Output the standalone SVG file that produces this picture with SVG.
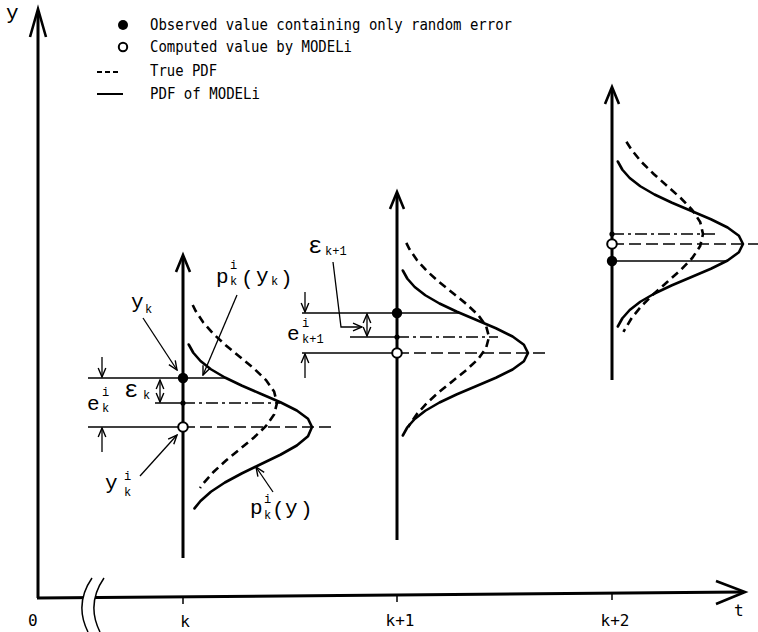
<svg xmlns="http://www.w3.org/2000/svg" width="758" height="632" viewBox="0 0 758 632">
<defs>
<marker id="ah" viewBox="-10 -5 11 10" refX="0" refY="0" markerWidth="11" markerHeight="10" markerUnits="userSpaceOnUse" orient="auto-start-reverse">
<path d="M-9,-3.8 L0,0 L-9,3.8" fill="none" stroke="#000" stroke-width="1.4"/>
</marker>
<style>
.ax{stroke:#000;stroke-width:3;fill:none}
.head{stroke:#000;stroke-width:2.6;fill:none;stroke-linejoin:miter}
.model{stroke:#000;stroke-width:2.6;fill:none;stroke-linejoin:round;stroke-linecap:round}
.true{stroke:#000;stroke-width:2.6;fill:none;stroke-dasharray:8 5}
.hl{stroke:#000;stroke-width:1.5;fill:none}
.hd{stroke:#000;stroke-width:1.5;fill:none;stroke-dasharray:12 5}
.hdd{stroke:#000;stroke-width:1.5;fill:none;stroke-dasharray:12 4 3 4}
.ld{stroke:#000;stroke-width:1.3;fill:none}
.leg{font-family:"DejaVu Sans Mono","Liberation Mono",monospace;font-size:16px;fill:#000}
.tk{font-family:"DejaVu Sans Mono","Liberation Mono",monospace;font-size:16px;fill:#000}
.m{font-family:"Liberation Mono","DejaVu Sans Mono",monospace;font-size:21px;fill:#000}
.s{font-family:"Liberation Mono","DejaVu Sans Mono",monospace;font-size:12px;fill:#000}
.eps{font-family:"Liberation Mono","DejaVu Sans Mono",monospace;font-size:24px;fill:#000}
</style>
</defs>
<rect width="758" height="632" fill="#fff"/>

<g id="axes">
<line class="ax" x1="38" y1="598" x2="38" y2="11"/>
<path class="head" d="M30,37 L38,9 L46,37"/>
<line class="ax" x1="37" y1="598" x2="743" y2="592"/>
<path class="head" d="M716,581 L745,592 L716,604"/>
<path d="M92,578 Q74,604 88,632 L100,632 Q86,604 104,578 Z" fill="#fff"/>
<path d="M92,578 Q74,604 88,632" class="hl" stroke-width="2"/>
<path d="M104,578 Q86,604 100,632" class="hl" stroke-width="2"/>
<line class="hl" stroke-width="2" x1="183" y1="596" x2="183" y2="604"/>
<line class="hl" stroke-width="2" x1="397" y1="595" x2="397" y2="602"/>
<line class="hl" stroke-width="2" x1="612" y1="593" x2="612" y2="600"/>
<text class="m" x="6" y="19" font-size="20">y</text>
<text class="tk" x="734" y="616">t</text>
<text class="tk" x="28" y="626">0</text>
<text class="tk" x="185" y="627" text-anchor="middle">k</text>
<text class="tk" x="400" y="626" text-anchor="middle">k+1</text>
<text class="tk" x="615" y="626" text-anchor="middle">k+2</text>
</g>

<g id="legend">
<circle cx="123" cy="25" r="5" fill="#000"/>
<text class="leg" x="150" y="30" textLength="362" lengthAdjust="spacingAndGlyphs">Observed value containing only random error</text>
<circle cx="123" cy="47" r="4.2" fill="#fff" stroke="#000" stroke-width="2"/>
<text class="leg" x="150" y="52" textLength="202" lengthAdjust="spacingAndGlyphs">Computed value by MODELi</text>
<line x1="97" y1="72" x2="121" y2="72" stroke="#000" stroke-width="2" stroke-dasharray="5 3"/>
<text class="leg" x="150" y="76" textLength="67" lengthAdjust="spacingAndGlyphs">True PDF</text>
<line x1="97" y1="94" x2="123" y2="94" stroke="#000" stroke-width="2"/>
<text class="leg" x="150" y="99" textLength="110" lengthAdjust="spacingAndGlyphs">PDF of MODELi</text>
</g>

<g id="dist-k">
<line class="hl" x1="88" y1="378" x2="225" y2="378"/>
<line class="hl" x1="155" y1="403" x2="183" y2="403"/>
<line class="hdd" x1="183" y1="403" x2="280" y2="403"/>
<line class="hl" x1="88" y1="427" x2="183" y2="427"/>
<line class="hd" x1="183" y1="427" x2="333" y2="427"/>
<polyline class="model" points="188.7,344.5 193.3,352.75 200.5,361 210.9,369.25 224.9,377.5 242.1,385.75 261.2,394 280.4,402.25 296.8,410.5 308,418.75 312,427 308,436.25 296.8,445.5 280.4,454.75 261.2,464 242.1,473.25 224.9,482.5 210.9,491.75 200.5,501 194.5,508.4"/>
<polyline class="true" points="192.7,305 195.7,311 203.3,322.5 213.5,334 226,345.5 240,357 254,368.5 266,380 274.1,391.5 277,403 274.1,414.5 266,426 254,437.5 240,449 226,460.5 213.5,472 203.3,483.5 200,488"/>
<line class="ax" x1="183" y1="558" x2="183" y2="257"/>
<path class="head" d="M176,272 L183,255 L190,272"/>
<circle cx="183" cy="378" r="5.2" fill="#000"/>
<circle cx="183" cy="403" r="2.6" fill="#000"/>
<circle cx="183" cy="427" r="4.8" fill="#fff" stroke="#000" stroke-width="2"/>
</g>

<g id="dist-k1">
<line class="hl" x1="302" y1="313" x2="460" y2="313"/>
<line class="hl" x1="350" y1="337" x2="397" y2="337"/>
<line class="hdd" x1="397" y1="337" x2="498" y2="337"/>
<line class="hl" x1="302" y1="353" x2="397" y2="353"/>
<line class="hd" x1="397" y1="353" x2="547" y2="353"/>
<polyline class="model" points="402.8,270.5 407.4,278.75 414.7,287 425.3,295.25 439.5,303.5 457,311.75 476.5,320 495.9,328.25 512.6,336.5 523.9,344.75 528,353 523.9,361.25 512.6,369.5 495.9,377.75 476.5,386 457,394.25 439.5,402.5 425.3,410.75 414.7,419 407.4,427.25 402.8,435.5"/>
<polyline class="true" points="406.3,242.8 409.4,249 416.9,260 426.9,271 439.1,282 452.8,293 466.4,304 478.2,315 486.1,326 489,337 486.1,348 478.2,359 466.4,370 452.8,381 439.1,392 426.9,403 416.9,414 409.4,425 408.3,427.2"/>
<line class="ax" x1="397" y1="540" x2="397" y2="195"/>
<path class="head" d="M390,209 L397,192 L404,209"/>
<circle cx="397" cy="313" r="5.2" fill="#000"/>
<circle cx="397" cy="337" r="2.6" fill="#000"/>
<circle cx="397" cy="353" r="4.8" fill="#fff" stroke="#000" stroke-width="2"/>
</g>

<g id="dist-k2">
<line class="hdd" x1="612" y1="234" x2="715" y2="234"/>
<line class="hd" x1="612" y1="244" x2="758" y2="244"/>
<line class="hl" x1="612" y1="261" x2="728" y2="261"/>
<polyline class="model" points="617.8,161.5 622.4,169.75 629.7,178 640.3,186.25 654.5,194.5 672,202.75 691.5,211 710.9,219.25 727.6,227.5 738.9,235.75 743,244 738.9,252.25 727.6,260.5 710.9,268.75 691.5,277 672,285.25 654.5,293.5 640.3,301.75 629.7,310 622.4,318.25 617.8,326.5"/>
<polyline class="true" points="626.4,141.8 631.7,150 641.5,162 653.7,174 667.2,186 680.7,198 692.3,210 700.2,222 703,234 700.2,246 692.3,258 680.7,270 667.2,282 653.7,294 641.5,306 631.7,318 623.4,331.9"/>
<line class="ax" x1="612" y1="380" x2="612" y2="90"/>
<path class="head" d="M605,104 L612,87 L619,104"/>
<circle cx="612" cy="234" r="2.6" fill="#000"/>
<circle cx="612" cy="244" r="4.8" fill="#fff" stroke="#000" stroke-width="2"/>
<circle cx="612" cy="261" r="5.2" fill="#000"/>
</g>

<g id="connectors">
<line class="ld" x1="102" y1="357" x2="102" y2="377" marker-end="url(#ah)"/>
<line class="ld" x1="102" y1="452" x2="102" y2="428" marker-end="url(#ah)"/>
<line class="ld" x1="160" y1="380" x2="160" y2="402" marker-start="url(#ah)" marker-end="url(#ah)"/>
<line class="ld" x1="305" y1="292" x2="305" y2="312" marker-end="url(#ah)"/>
<line class="ld" x1="305" y1="378" x2="305" y2="354" marker-end="url(#ah)"/>
<line class="ld" x1="367" y1="314" x2="367" y2="336" marker-start="url(#ah)" marker-end="url(#ah)"/>
<line class="ld" x1="143" y1="318" x2="177" y2="370" marker-end="url(#ah)"/>
<line class="ld" x1="237" y1="295" x2="203" y2="375" marker-end="url(#ah)"/>
<line class="ld" x1="140" y1="476" x2="177" y2="435" marker-end="url(#ah)"/>
<line class="ld" x1="273" y1="492" x2="256" y2="467" marker-end="url(#ah)"/>
<path class="ld" d="M333,262 L341,327 L362,327" marker-end="url(#ah)"/>
</g>

<g id="labels">
<text class="m" x="216" y="283">p</text>
<text class="s" x="230" y="269">i</text>
<text class="s" x="230" y="285">k</text>
<text class="m" x="241" y="285">(</text>
<text class="m" x="256" y="282">y</text>
<text class="s" x="271" y="285">k</text>
<text class="m" x="280" y="285">)</text>

<text class="m" x="250" y="514">p</text>
<text class="s" x="264" y="503">i</text>
<text class="s" x="264" y="519">k</text>
<text class="m" x="272" y="516">(</text>
<text class="m" x="285" y="514">y</text>
<text class="m" x="300" y="516">)</text>

<text class="m" x="131" y="308">y</text>
<text class="s" x="145" y="313">k</text>

<text class="m" x="105" y="489" font-size="22">y</text>
<text class="s" x="124" y="480">i</text>
<text class="s" x="124" y="496">k</text>

<text class="m" x="87" y="410">e</text>
<text class="s" x="102" y="396">i</text>
<text class="s" x="102" y="412">k</text>

<text class="eps" x="124" y="397">ε</text>
<text class="s" x="143" y="399">k</text>

<text class="eps" x="308" y="253">ε</text>
<text class="s" x="325" y="255">k+1</text>

<text class="m" x="287" y="340">e</text>
<text class="s" x="302" y="327">i</text>
<text class="s" x="302" y="343">k+1</text>
</g>
</svg>
